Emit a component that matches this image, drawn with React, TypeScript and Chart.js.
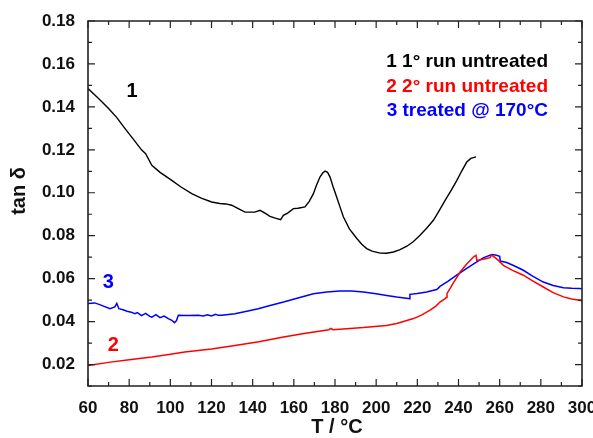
import React, { useEffect, useRef } from "react";
import { Chart, registerables } from "chart.js";

Chart.register(...registerables);

// Curve 1: 1° run untreated (black)
const temp1 = [60, 65, 70, 74, 78, 82, 86, 88, 91, 95, 100.7, 105, 110.4, 115, 120.1, 124, 127, 129.8, 133, 136.3, 138.7, 141, 143.6, 146, 148.4, 151, 153.6, 154.9, 157, 159.8, 162, 165.4, 167.5, 169.5, 171, 172.7, 174, 175.2, 176.4, 177.6, 179, 180.8, 182.5, 184.1, 187, 190.6, 193, 195.4, 198, 201.9, 205, 208.4, 211.6, 214.9, 218, 221.3, 224.5, 227.8, 230.5, 233.5, 236.5, 239.2, 241.5, 244, 246, 248.5];
const tan1 = [0.1485, 0.1440, 0.1392, 0.1350, 0.1299, 0.1250, 0.1200, 0.1182, 0.1128, 0.1095, 0.1058, 0.1028, 0.0996, 0.0975, 0.0957, 0.0950, 0.0948, 0.0942, 0.0926, 0.0910, 0.0910, 0.0910, 0.0918, 0.0905, 0.0890, 0.0882, 0.0875, 0.0895, 0.0905, 0.0926, 0.0928, 0.0934, 0.0960, 0.0996, 0.1035, 0.1073, 0.1092, 0.1101, 0.1095, 0.1073, 0.1030, 0.0980, 0.0932, 0.0887, 0.0832, 0.0787, 0.0760, 0.0740, 0.0728, 0.0719, 0.0718, 0.0724, 0.0735, 0.0751, 0.0772, 0.0802, 0.0835, 0.0872, 0.0915, 0.0965, 0.1012, 0.1058, 0.1100, 0.1143, 0.1160, 0.1167];

// Curve 2: 2° run untreated (red)
const temp2 = [60, 70, 80, 91, 100, 107, 120, 131.4, 143, 155, 165, 177, 178, 179, 193.8, 205, 210, 218.1, 222, 226.2, 229, 231, 233.5, 234, 234.4, 237.5, 240.8, 244, 247.3, 248.5, 248.9, 252, 255.3, 256, 257.5, 259.4, 261.8, 266, 271.5, 276, 281.2, 286, 291, 295, 298.7, 300];
const tan2 = [0.0196, 0.0210, 0.0222, 0.0235, 0.0248, 0.0258, 0.0272, 0.0289, 0.0306, 0.0328, 0.0345, 0.0362, 0.0368, 0.0362, 0.0372, 0.0382, 0.0391, 0.0414, 0.0430, 0.0453, 0.0472, 0.0491, 0.0507, 0.0512, 0.0530, 0.0580, 0.0631, 0.0668, 0.0701, 0.0709, 0.0685, 0.0690, 0.0698, 0.0710, 0.0700, 0.0685, 0.0662, 0.0640, 0.0616, 0.0590, 0.0561, 0.0535, 0.0515, 0.0505, 0.0499, 0.0497];

// Curve 3: treated @ 170°C (blue)
const temp3 = [60, 63.3, 66, 70.7, 73, 74, 75, 77, 79, 81, 82.8, 84, 86, 88, 90, 91, 93, 95, 97, 99, 100.7, 102, 103, 103.9, 108, 113.6, 116, 118, 120, 122, 123.3, 125, 131.4, 136, 142.7, 148, 155, 162, 169.5, 176, 182.4, 188, 193.8, 200, 205.1, 210, 215.6, 216.2, 216.4, 220, 224.5, 229.4, 230.2, 231, 235, 239.1, 244, 248.9, 252, 256.2, 258, 260, 260.3, 263.4, 267, 271.5, 276, 281.2, 286, 291, 295, 298.7, 300];
const tan3 = [0.0484, 0.0487, 0.0478, 0.0460, 0.0468, 0.0484, 0.0460, 0.0455, 0.0448, 0.0444, 0.0437, 0.0442, 0.0428, 0.0438, 0.0424, 0.0421, 0.0432, 0.0418, 0.0426, 0.0414, 0.0406, 0.0395, 0.0405, 0.0429, 0.0428, 0.0429, 0.0426, 0.0432, 0.0426, 0.0434, 0.0429, 0.0430, 0.0437, 0.0446, 0.0460, 0.0474, 0.0491, 0.0510, 0.0530, 0.0538, 0.0542, 0.0542, 0.0538, 0.0530, 0.0522, 0.0514, 0.0507, 0.0506, 0.0527, 0.0531, 0.0538, 0.0549, 0.0556, 0.0564, 0.0588, 0.0616, 0.0648, 0.0678, 0.0697, 0.0712, 0.0710, 0.0704, 0.0682, 0.0675, 0.0660, 0.0639, 0.0612, 0.0584, 0.0568, 0.0558, 0.0555, 0.0554, 0.0553];

const xTicks = [60, 80, 100, 120, 140, 160, 180, 200, 220, 240, 260, 280, 300];
const yTicks = [0.02, 0.04, 0.06, 0.08, 0.1, 0.12, 0.14, 0.16, 0.18];
const xMinor = [70, 90, 110, 130, 150, 170, 190, 210, 230, 250, 270, 290];
const yMinor = [0.01, 0.03, 0.05, 0.07, 0.09, 0.11, 0.13, 0.15, 0.17];

const legendLabels = ["1 1° run untreated", "2 2° run untreated", "3 treated @ 170°C"];
const curveLabels = ["1", "2", "3"];
const curveLabelPos = [[81.4, 0.1473], [72.3, 0.029], [69.9, 0.0582]];
const colors = ["#000000", "#ff0000", "#0000ff"];

const zip = (xs: number[], ys: number[]) => xs.map((x, i) => ({ x, y: ys[i] }));

const FONT = "'Liberation Sans', Arial, sans-serif";

const decorPlugin = {
  id: "decor",
  afterDraw(chart: any) {
    const ctx = chart.ctx;
    const xs = chart.scales.x;
    const ys = chart.scales.y;
    const left = xs.getPixelForValue(60);
    const right = Math.min(xs.getPixelForValue(300), 591);
    const top = ys.getPixelForValue(0.18);
    const bottom = ys.getPixelForValue(0.01);
    ctx.save();
    ctx.strokeStyle = "#222";
    ctx.lineWidth = 1.6;
    ctx.beginPath();
    ctx.moveTo(left, top);
    ctx.lineTo(right, top);
    ctx.lineTo(right, bottom);
    ctx.lineTo(left, bottom);
    ctx.closePath();
    ctx.stroke();
    ctx.lineWidth = 1.2;
    const tick = (vals: number[], len: number) => {
      vals.forEach((v) => {
        const px = xs.getPixelForValue(v);
        ctx.beginPath();
        ctx.moveTo(px, bottom);
        ctx.lineTo(px, bottom - len);
        ctx.moveTo(px, top);
        ctx.lineTo(px, top + len);
        ctx.stroke();
      });
    };
    const ytick = (vals: number[], len: number) => {
      vals.forEach((v) => {
        const py = ys.getPixelForValue(v);
        ctx.beginPath();
        ctx.moveTo(left, py);
        ctx.lineTo(left + len, py);
        ctx.moveTo(right, py);
        ctx.lineTo(right - len, py);
        ctx.stroke();
      });
    };
    tick(xTicks, 7);
    tick(xMinor, 4);
    ytick(yTicks, 7);
    ytick(yMinor, 4);

    // axis titles
    ctx.fillStyle = "#111";
    ctx.font = `bold 20px ${FONT}`;
    ctx.textAlign = "center";
    ctx.textBaseline = "middle";
    ctx.fillText("T / °C", 337, 427);
    ctx.save();
    ctx.translate(19, 191);
    ctx.rotate(-Math.PI / 2);
    ctx.fillText("tan δ", 0, 0);
    ctx.restore();

    // legend
    ctx.font = `bold 19px ${FONT}`;
    ctx.textAlign = "right";
    legendLabels.forEach((t, i) => {
      ctx.fillStyle = colors[i];
      ctx.fillText(t, 548, 62 + i * 24.3);
    });

    // curve labels
    ctx.font = `bold 20px ${FONT}`;
    ctx.textAlign = "center";
    curveLabels.forEach((t, i) => {
      ctx.fillStyle = colors[i];
      ctx.fillText(t, xs.getPixelForValue(curveLabelPos[i][0]), ys.getPixelForValue(curveLabelPos[i][1]));
    });
    ctx.restore();
  },
};

export default function App() {
  const ref = useRef<HTMLCanvasElement>(null);
  useEffect(() => {
    document.body.style.margin = "0";
    const chart = new Chart(ref.current!, {
      type: "line",
      data: {
        datasets: [
          { data: zip(temp1, tan1), borderColor: colors[0], borderWidth: 1.4, pointRadius: 0, tension: 0, fill: false },
          { data: zip(temp2, tan2), borderColor: colors[1], borderWidth: 1.5, pointRadius: 0, tension: 0, fill: false },
          { data: zip(temp3, tan3), borderColor: colors[2], borderWidth: 1.5, pointRadius: 0, tension: 0, fill: false },
        ],
      },
      options: {
        responsive: false,
        animation: false,
        layout: { padding: { top: 21, right: 11, left: 0, bottom: 0 } },
        plugins: { legend: { display: false }, tooltip: { enabled: false } },
        scales: {
          x: {
            type: "linear",
            min: 60,
            max: 300,
            grid: { display: false, drawTicks: false },
            border: { display: false },
            afterBuildTicks: (s: any) => {
              s.ticks = xTicks.map((v) => ({ value: v }));
            },
            afterFit: (s: any) => {
              s.height = 52;
              s.paddingLeft = 0;
              s.paddingRight = 11;
            },
            ticks: {
              color: "#111",
              font: { family: FONT, size: 17, weight: "bold" },
              padding: 12,
              maxRotation: 0,
              autoSkip: false,
              callback: (v: any) => String(v),
            },
          },
          y: {
            type: "linear",
            min: 0.01,
            max: 0.18,
            grid: { display: false, drawTicks: false },
            border: { display: false },
            afterBuildTicks: (s: any) => {
              s.ticks = yTicks.map((v) => ({ value: v }));
            },
            afterFit: (s: any) => {
              s.width = 88;
              s.paddingTop = 0;
              s.paddingBottom = 0;
            },
            ticks: {
              color: "#111",
              font: { family: FONT, size: 17, weight: "bold" },
              padding: 13,
              autoSkip: false,
              callback: (v: any) => Number(v).toFixed(2),
            },
          },
        },
      },
      plugins: [decorPlugin],
    } as any);
    return () => chart.destroy();
  }, []);
  return (
    <div style={{ position: "fixed", left: 0, top: 0, width: 593, height: 438, background: "#fff" }}>
      <canvas ref={ref} width={593} height={438} />
    </div>
  );
}
